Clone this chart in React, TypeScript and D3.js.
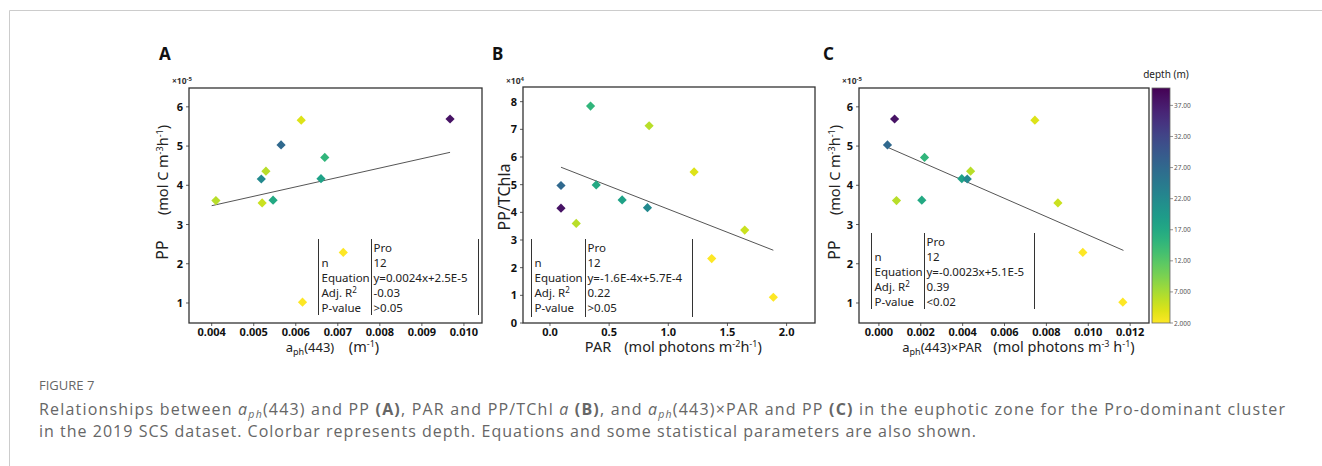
import React from "react";
import * as d3 from "d3";

// ---- data ----
const aph = [0.0041, 0.0052, 0.00518, 0.00529, 0.00546, 0.00565, 0.00613, 0.00616, 0.0066, 0.00669, 0.00713, 0.00967];
const pp = [3.61, 3.55, 4.16, 4.36, 3.62, 5.03, 5.66, 1.02, 4.17, 4.71, 2.29, 5.69]; // x1e-5
const par = [0.222, 1.646, 0.824, 0.838, 0.391, 0.093, 1.218, 1.888, 0.61, 0.343, 1.367, 0.093];
const ppChl = [3.6, 3.36, 4.17, 7.13, 4.99, 4.97, 5.46, 0.93, 4.45, 7.84, 2.33, 4.15]; // x1e-4
const aphPar = [0.00084, 0.00855, 0.00422, 0.00438, 0.00205, 0.00041, 0.00745, 0.01165, 0.00396, 0.00218, 0.00974, 0.00075];
const depth = [6, 5, 22, 6, 17, 27, 4, 2, 18, 15, 2, 38];

const fitA = { x: [0.004, 0.00967], y: [3.48, 4.84] };
const fitB = { x: [0.093, 1.888], y: [5.63, 2.63] };
const fitC = { x: [0.00041, 0.01168], y: [4.97, 2.34] };

const xTicksA = [0.004, 0.005, 0.006, 0.007, 0.008, 0.009, 0.01];
const xTicksB = [0, 0.5, 1, 1.5, 2];
const xTicksC = [0, 0.002, 0.004, 0.006, 0.008, 0.01, 0.012];
const yTicksPP = [1, 2, 3, 4, 5, 6];
const yTicksB = [0, 1, 2, 3, 4, 5, 6, 7, 8];
const cbTicks = [2, 7, 12, 17, 22, 27, 32, 37];
const cbLabels = ["2.000", "7.000", "12.00", "17.00", "22.00", "27.00", "32.00", "37.00"];

const tableKeys = ["", "n", "Equation", "Adj. R", "P-value"];
const tableA = ["Pro", "12", "y=0.0024x+2.5E-5", "-0.03", ">0.05"];
const tableB = ["Pro", "12", "y=-1.6E-4x+5.7E-4", "0.22", ">0.05"];
const tableC = ["Pro", "12", "y=-0.0023x+5.1E-5", "0.39", "<0.02"];

const depthDomain = [2, 39.8];
const color = (d: number) =>
  d3.interpolateViridis(1 - (d - depthDomain[0]) / (depthDomain[1] - depthDomain[0]));

const FONT = "'Noto Sans', 'Open Sans', sans-serif";
const INK = "#333";

type PanelCfg = {
  letter: string;
  letterX: number;
  left: number;
  right: number;
  top: number;
  bottom: number;
  xDomain: [number, number];
  yDomain: [number, number];
  xs: number[];
  ys: number[];
  xTicks: number[];
  yTicks: number[];
  xFmt: (v: number) => string;
  fit: { x: number[]; y: number[] };
  exp: string;
  table: string[];
  tbl: { x1: number; x2: number; x3: number; top: number; bottom: number };
};

const panels: PanelCfg[] = [
  {
    letter: "A", letterX: 159, left: 189, right: 482, top: 88, bottom: 323,
    xDomain: [0.00346, 0.01043], yDomain: [0.49, 6.48], xs: aph, ys: pp,
    xTicks: xTicksA, yTicks: yTicksPP, xFmt: d3.format(".3f"), fit: fitA, exp: "-5",
    table: tableA, tbl: { x1: 318.5, x2: 371.5, x3: 478.5, top: 239, bottom: 315 },
  },
  {
    letter: "B", letterX: 492, left: 523, right: 815, top: 87, bottom: 323,
    xDomain: [-0.228, 2.24], yDomain: [0, 8.53], xs: par, ys: ppChl,
    xTicks: xTicksB, yTicks: yTicksB, xFmt: d3.format(".1f"), fit: fitB, exp: "4",
    table: tableB, tbl: { x1: 531.5, x2: 585.5, x3: 692.5, top: 239, bottom: 317 },
  },
  {
    letter: "C", letterX: 823, left: 859, right: 1149, top: 88, bottom: 323,
    xDomain: [-0.00095, 0.0129], yDomain: [0.49, 6.48], xs: aphPar, ys: pp,
    xTicks: xTicksC, yTicks: yTicksPP, xFmt: d3.format(".3f"), fit: fitC, exp: "-5",
    table: tableC, tbl: { x1: 871.5, x2: 924.5, x3: 1034.5, top: 233, bottom: 309 },
  },
];

function Panel({ p }: { p: PanelCfg }) {
  const x = d3.scaleLinear().domain(p.xDomain).range([p.left, p.right]);
  const y = d3.scaleLinear().domain(p.yDomain).range([p.bottom, p.top]);
  const line = d3.line<number>().x((_, i) => x(p.fit.x[i])).y((_, i) => y(p.fit.y[i]));
  const diamond = (cx: number, cy: number, r: number) =>
    `M${cx},${cy - r}L${cx + r},${cy}L${cx},${cy + r}L${cx - r},${cy}Z`;
  const rowOff = [9, 24, 39, 54, 69];
  const t = p.tbl;
  const order = d3.range(p.xs.length).sort((a, b) => depth[a] - depth[b]);
  return (
    <g>
      <text x={p.letterX} y={60} fontFamily={FONT} fontWeight="bold" fontSize={17} fill="#111">
        {p.letter}
      </text>
      <text x={p.left - 17} y={84} fontFamily={FONT} fontWeight="bold" fontSize={8.5} fill={INK}>
        ×10<tspan dy={-3.5} fontSize={6}>{p.exp}</tspan>
      </text>
      {p.yTicks.map((v) => (
        <g key={"y" + v}>
          <line x1={p.left - 3} x2={p.left} y1={y(v)} y2={y(v)} stroke={INK} strokeWidth={0.8} />
          <text x={p.left - 6} y={y(v) + 4} textAnchor="end" fontFamily={FONT} fontWeight="bold" fontSize={11} fill="#111">
            {v}
          </text>
        </g>
      ))}
      {p.xTicks.map((v) => (
        <g key={"x" + v}>
          <line x1={x(v)} x2={x(v)} y1={p.bottom} y2={p.bottom + 3} stroke={INK} strokeWidth={0.8} />
          <text x={x(v)} y={p.bottom + 12.5} textAnchor="middle" fontFamily={FONT} fontWeight="bold" fontSize={11} fill="#111">
            {p.xFmt(v)}
          </text>
        </g>
      ))}
      <path d={line(p.fit.x) || ""} fill="none" stroke="#555" strokeWidth={1} />
      {order.map((i) => (
        <path key={i} d={diamond(x(p.xs[i]), y(p.ys[i]), 4.6)} fill={color(depth[i])} />
      ))}
      {[t.x1, t.x2, t.x3].map((lx) => (
        <line key={lx} x1={lx} x2={lx} y1={t.top} y2={t.bottom} stroke={INK} strokeWidth={1} />
      ))}
      {tableKeys.map((k, i) => (
        <g key={"r" + i} fontFamily={FONT} fontSize={11.5} fill="#222">
          <text x={t.x1 + 3} y={t.top + rowOff[i] + 4}>
            {k}
            {k === "Adj. R" ? <tspan dy={-4} fontSize={8}>2</tspan> : null}
          </text>
          <text x={t.x2 + 2} y={t.top + rowOff[i] + 4}>{p.table[i]}</text>
        </g>
      ))}
      <rect x={p.left} y={p.top} width={p.right - p.left} height={p.bottom - p.top} fill="none" stroke={INK} strokeWidth={1.3} />
    </g>
  );
}

function PPLabel({ bx }: { bx: number }) {
  return (
    <g fontFamily={FONT} fill="#222">
      <text transform={`translate(${bx},250) rotate(-90)`} textAnchor="middle" fontSize={16}>PP</text>
      <text transform={`translate(${bx},170) rotate(-90)`} textAnchor="middle" fontSize={14.5}>
        (mol C m<tspan dy={-5} fontSize={9}>-3</tspan>
        <tspan dy={5}>h</tspan>
        <tspan dy={-5} fontSize={9}>-1</tspan>
        <tspan dy={5}>)</tspan>
      </text>
    </g>
  );
}

export default function App() {
  const cbX = 1152, cbW = 18, cbTop = 88, cbBot = 323;
  const cy = d3.scaleLinear().domain(depthDomain).range([cbBot, cbTop]);
  const stops = d3.range(0, 1.0001, 0.05);
  return (
    <svg width={1322} height={466} style={{ position: "absolute", left: 0, top: 0 }}>
      <rect width={1322} height={466} fill="#fff" />
      <line x1={9.5} x2={1322} y1={10.5} y2={10.5} stroke="#ccc" strokeWidth={1} />
      <line x1={9.5} x2={9.5} y1={10.5} y2={466} stroke="#ccc" strokeWidth={1} />

      {panels.map((p) => <Panel key={p.letter} p={p} />)}

      <PPLabel bx={168} />
      <PPLabel bx={840} />
      <text transform="translate(510,197) rotate(-90)" textAnchor="middle" fontFamily={FONT} fontSize={16} fill="#222">
        PP/TChla
      </text>

      {/* x labels */}
      <g fontFamily={FONT} fill="#222">
        <text x={310} y={352} textAnchor="middle" fontSize={13}>
          a<tspan dy={3} fontSize={9}>ph</tspan><tspan dy={-3}>(443)</tspan>
        </text>
        <text x={364} y={352} textAnchor="middle" fontSize={14.5}>
          (m<tspan dy={-5} fontSize={9}>-1</tspan><tspan dy={5}>)</tspan>
        </text>
        <text x={598} y={352} textAnchor="middle" fontSize={14.5}>PAR</text>
        <text x={693} y={352} textAnchor="middle" fontSize={14.5}>
          (mol photons m<tspan dy={-5} fontSize={9}>-2</tspan><tspan dy={5}>h</tspan>
          <tspan dy={-5} fontSize={9}>-1</tspan><tspan dy={5}>)</tspan>
        </text>
        <text x={942} y={352} textAnchor="middle" fontSize={13}>
          a<tspan dy={3} fontSize={9}>ph</tspan><tspan dy={-3}>(443)×PAR</tspan>
        </text>
        <text x={1064} y={352} textAnchor="middle" fontSize={14.5}>
          (mol photons m<tspan dy={-5} fontSize={9}>-3</tspan><tspan dy={5}> h</tspan>
          <tspan dy={-5} fontSize={9}>-1</tspan><tspan dy={5}>)</tspan>
        </text>
      </g>

      {/* colorbar */}
      <defs>
        <linearGradient id="cb" x1="0" y1="1" x2="0" y2="0">
          {stops.map((s) => (
            <stop key={s} offset={s} stopColor={color(depthDomain[0] + s * (depthDomain[1] - depthDomain[0]))} />
          ))}
        </linearGradient>
      </defs>
      <text x={cbX + 14} y={78} textAnchor="middle" fontFamily={FONT} fontSize={10} fill="#222">depth (m)</text>
      <rect x={cbX} y={cbTop} width={cbW} height={cbBot - cbTop} fill="url(#cb)" stroke="#666" strokeWidth={0.8} />
      {cbTicks.map((v, i) => (
        <g key={v}>
          <line x1={cbX + cbW} x2={cbX + cbW + 3} y1={cy(v)} y2={cy(v)} stroke="#666" strokeWidth={0.7} />
          <text x={cbX + cbW + 4} y={cy(v) + 2.5} fontFamily={FONT} fontSize={6.5} fill="#555">{cbLabels[i]}</text>
        </g>
      ))}

      {/* caption */}
      <g fontFamily="'Open Sans', Lato, sans-serif" fill="#666">
        <text x={39} y={390} fontSize={13}>FIGURE 7</text>
        <text x={39} y={415} fontSize={16} textLength={1246} lengthAdjust="spacing">
          Relationships between <tspan fontStyle="italic">a</tspan>
          <tspan dy={2.5} fontSize={10.5} fontStyle="italic">ph</tspan>
          <tspan dy={-2.5}>(443) and PP </tspan><tspan fontWeight="bold">(A)</tspan>
          <tspan>, PAR and PP/TChl </tspan><tspan fontStyle="italic">a</tspan>
          <tspan> </tspan><tspan fontWeight="bold">(B)</tspan>
          <tspan>, and </tspan><tspan fontStyle="italic">a</tspan>
          <tspan dy={2.5} fontSize={10.5} fontStyle="italic">ph</tspan>
          <tspan dy={-2.5}>(443)×PAR and PP </tspan><tspan fontWeight="bold">(C)</tspan>
          <tspan> in the euphotic zone for the Pro-dominant cluster</tspan>
        </text>
        <text x={39} y={437} fontSize={16} textLength={937} lengthAdjust="spacing">
          in the 2019 SCS dataset. Colorbar represents depth. Equations and some statistical parameters are also shown.
        </text>
      </g>
    </svg>
  );
}
